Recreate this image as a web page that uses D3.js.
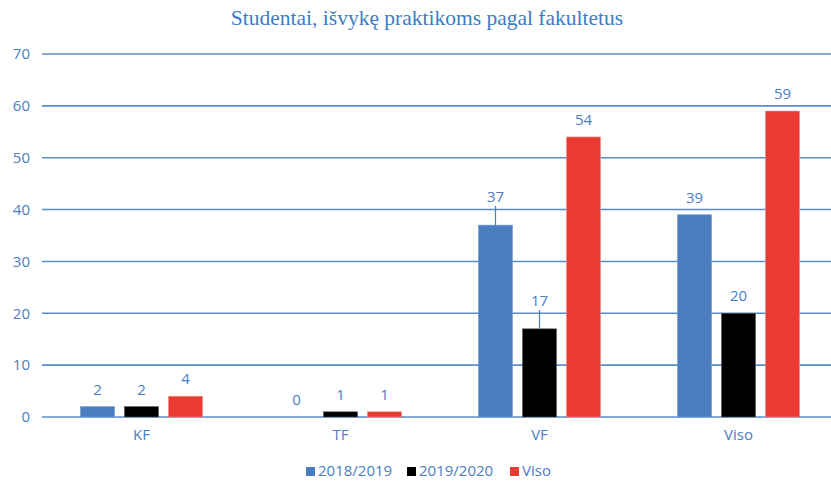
<!DOCTYPE html>
<html>
<head>
<meta charset="utf-8">
<script src="https://cdn.jsdelivr.net/npm/d3@7"></script>
<style>
  body { margin: 0; background: #fff; }
  svg { display: block; }
</style>
</head>
<body>
<svg id="chart"></svg>
<script>
var categories = ["KF", "TF", "VF", "Viso"];
var seriesNames = ["2018/2019", "2019/2020", "Viso"];
var values2018 = [2, 0, 37, 39];
var values2019 = [2, 1, 17, 20];
var valuesViso = [4, 1, 54, 59];
var yTicks = [0, 10, 20, 30, 40, 50, 60, 70];

var colors = ["#4a7ebf", "#000000", "#e93b31"];
var textBlue = "#4a7ebf";
// labels that Excel pushed up with a leader line: "series|category"
var lifted = {"0|VF": 11, "1|VF": 11};

var W = 831, H = 484;
var svg = d3.select("#chart").attr("width", W).attr("height", H);

var seriesData = [values2018, values2019, valuesViso];

var x = d3.scaleBand().domain(categories).range([42, 838]);
var xi = d3.scaleBand().domain(d3.range(seriesNames.length)).range([0, 122]).paddingInner(0.227);
var y = d3.scaleLinear().domain([0, 70]).range([417, 54]);

var sans = "'Open Sans', 'Liberation Sans', sans-serif";

// title
svg.append("text")
  .attr("x", 427).attr("y", 25)
  .attr("text-anchor", "middle")
  .style("font-family", "'Liberation Serif', 'DejaVu Serif', serif")
  .style("font-size", "21.5px")
  .style("fill", "#3d7cc4")
  .text("Studentai, išvykę praktikoms pagal fakultetus");

// grid
svg.append("g").selectAll("line").data(yTicks).enter().append("line")
  .attr("x1", 42).attr("x2", W)
  .attr("y1", d => y(d)).attr("y2", d => y(d))
  .style("stroke", "#5a8ccc").style("stroke-width", 1.6);

// y axis labels
var yAxis = d3.axisLeft(y).tickValues(yTicks).tickSize(0).tickPadding(0);
var ya = svg.append("g").attr("transform", "translate(30,0)").call(yAxis);
ya.select(".domain").remove();
ya.selectAll("text")
  .style("font-family", sans)
  .style("font-size", "15px")
  .style("fill", textBlue);

// x axis labels
var xAxis = d3.axisBottom(x).tickSize(0).tickPadding(0);
var xa = svg.append("g").attr("transform", "translate(0,429)").call(xAxis);
xa.select(".domain").remove();
xa.selectAll("text")
  .style("font-family", sans)
  .style("font-size", "15px")
  .style("fill", textBlue);

// bars
var groups = svg.append("g").selectAll("g").data(categories).enter().append("g")
  .attr("transform", d => "translate(" + (x(d) + x.bandwidth() / 2 - 61) + ",0)");

groups.each(function(cat, ci) {
  var g = d3.select(this);
  seriesData.forEach(function(vals, si) {
    var v = vals[ci];
    var bx = xi(si), bw = xi.bandwidth();
    if (v > 0) {
      g.append("rect")
        .attr("x", bx).attr("width", bw)
        .attr("y", y(v)).attr("height", y(0) - y(v))
        .style("fill", colors[si])
        .style("stroke", si == 2 ? "#f08a84" : (si == 1 ? "#555" : "#6f9ad0"))
        .style("stroke-width", 0.6);
    }
    var lift = lifted[si + "|" + cat] || 0;
    var ly = y(v) - 12 - lift;
    if (lift) {
      g.append("line")
        .attr("x1", bx + bw / 2).attr("x2", bx + bw / 2)
        .attr("y1", ly + 4).attr("y2", y(v))
        .style("stroke", textBlue).style("stroke-width", 1.2);
    }
    g.append("text")
      .attr("x", bx + bw / 2).attr("y", ly)
      .attr("text-anchor", "middle")
      .style("font-family", sans)
      .style("font-size", "15px")
      .style("fill", textBlue)
      .text(v);
  });
});

// legend
var legendX = [306, 407, 510];
var leg = svg.append("g").selectAll("g").data(seriesNames).enter().append("g")
  .attr("transform", (d, i) => "translate(" + legendX[i] + ",476)");
leg.append("rect")
  .attr("x", 0).attr("y", -9).attr("width", 9).attr("height", 9)
  .style("fill", (d, i) => colors[i]);
leg.append("text")
  .attr("x", 12).attr("y", 0)
  .style("font-family", sans)
  .style("font-size", "15px")
  .style("fill", textBlue)
  .text(d => d);
</script>
</body>
</html>
